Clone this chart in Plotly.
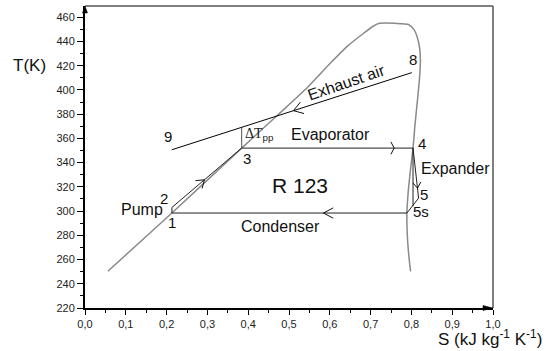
import math
import plotly.graph_objects as go

# ---------------- data ----------------
# saturation dome of R123 (gray curve)
dome_s = [0.056, 0.213, 0.384, 0.473, 0.545, 0.601, 0.642, 0.683, 0.707, 0.722,
          0.760, 0.793, 0.806, 0.814, 0.820, 0.822, 0.820, 0.815, 0.809, 0.804,
          0.797, 0.792, 0.789, 0.790, 0.794, 0.798]
dome_T = [250.3, 298.4, 352.0, 379.5, 402.0, 422.0, 435.8, 446.8, 452.8, 455.0,
          455.0, 454.0, 450.0, 444.0, 435.0, 425.0, 410.0, 392.0, 372.0, 352.0,
          332.0, 315.0, 298.4, 280.0, 262.0, 250.3]

# ORC cycle points 1 -> 2 -> 3 -> 4 -> 5 -> 5s -> 1
cycle_names = ["1", "2", "3", "4", "5", "5s", "1"]
cycle_s = [0.213, 0.213, 0.384, 0.804, 0.8176, 0.789, 0.213]
cycle_T = [298.4, 303.0, 352.0, 352.0, 310.7, 298.4, 298.4]

# isentropic expansion 4 -> 5s'
iso_s = [0.804, 0.804]
iso_T = [352.0, 304.0]

# pinch point temperature difference at 3
pinch_s = [0.384, 0.384]
pinch_T = [352.0, 369.2]

# exhaust air line 8 -> 9
exh_s = [0.801, 0.2126]
exh_T = [414.3, 350.6]

x_ticks = [0.0, 0.1, 0.2, 0.3, 0.4, 0.5, 0.6, 0.7, 0.8, 0.9, 1.0]
y_ticks = [220, 240, 260, 280, 300, 320, 340, 360, 380, 400, 420, 440, 460]

# ---------------- geometry ----------------
W, H = 546, 351
ML, MR, MT, MB = 85, 53, 6, 43
XR = [0.0, 1.0]
YR = [220.0, 469.3]
PW, PH = W - ML - MR, H - MT - MB
KX = PW / (XR[1] - XR[0])
KY = PH / (YR[1] - YR[0])


def chevron(p0, p1, t, L, ang):
    s = p0[0] + t * (p1[0] - p0[0])
    T = p0[1] + t * (p1[1] - p0[1])
    dx = (p1[0] - p0[0]) * KX
    dy = (p1[1] - p0[1]) * KY
    n = math.hypot(dx, dy)
    bx, by = -dx / n, -dy / n
    a = math.radians(ang)
    xs, ys = [], []
    for sg in (1, -1):
        rx = bx * math.cos(sg * a) - by * math.sin(sg * a)
        ry = bx * math.sin(sg * a) + by * math.cos(sg * a)
        xs.append(s + rx * L / KX)
        ys.append(T + ry * L / KY)
    return [xs[0], s, xs[1], None], [ys[0], T, ys[1], None]


def pt(i):
    return (cycle_s[i], cycle_T[i])


chev_specs = [
    ((exh_s[0], exh_T[0]), (exh_s[1], exh_T[1]), 0.493, 11, 33),
    (pt(2), pt(3), 0.89, 7, 62),
    (pt(5), pt(6), 0.355, 11, 28),
    (pt(1), pt(2), 0.466, 9, 35),
    (pt(3), pt(4), 0.8, 7, 35),
]
chev_x, chev_y = [], []
for a, b, t, L, ang in chev_specs:
    cx, cy = chevron(a, b, t, L, ang)
    chev_x += cx
    chev_y += cy

fig = go.Figure()
fig.add_trace(go.Scatter(x=dome_s, y=dome_T, mode="lines",
                         line=dict(color="#8a8a8a", width=1.5, shape="spline", smoothing=0.6),
                         hoverinfo="skip"))
fig.add_trace(go.Scatter(x=cycle_s, y=cycle_T, mode="lines",
                         line=dict(color="#222222", width=1), hoverinfo="skip"))
fig.add_trace(go.Scatter(x=iso_s, y=iso_T, mode="lines",
                         line=dict(color="#222222", width=1), hoverinfo="skip"))
fig.add_trace(go.Scatter(x=pinch_s, y=pinch_T, mode="lines",
                         line=dict(color="#555555", width=1), hoverinfo="skip"))
fig.add_trace(go.Scatter(x=exh_s, y=exh_T, mode="lines",
                         line=dict(color="#000000", width=1), hoverinfo="skip"))
fig.add_trace(go.Scatter(x=chev_x, y=chev_y, mode="lines",
                         line=dict(color="#111111", width=1), hoverinfo="skip"))

F = "Liberation Sans, Arial, sans-serif"
ann = []


def lab(text, x, y, size=15, xanchor="center", **kw):
    ann.append(dict(text=text, x=x, y=y, xref="x", yref="y", showarrow=False,
                    xanchor=xanchor, yanchor="middle",
                    font=dict(family=F, size=size, color="#111111"), **kw))


lab("9", 0.2036, 361.3)
lab("8", 0.804, 424.8)
lab("Exhaust air", 0.640, 406.2, size=16, textangle=-19)
lab("Evaporator", 0.601, 362.9, size=16)
lab("3", 0.398, 343.7)
lab("4", 0.826, 356.1)
lab("Expander", 0.9075, 335.5, size=16)
lab("5", 0.830, 313.4)
lab("5s", 0.823, 299.7)
lab("R 123", 0.527, 321.1, size=21)
lab("Condenser", 0.478, 287.3, size=16)
lab("Pump", 0.139, 301.1, size=16)
lab("2", 0.1946, 310.7)
lab("1", 0.214, 290.9)
ann.append(dict(text="ΔT<sub><span style='font-family:Liberation Sans'>pp</span></sub>",
                x=0.3868, y=362.9, xref="x", yref="y", showarrow=False,
                xanchor="left", yanchor="middle",
                font=dict(family="Liberation Serif, Times New Roman, serif", size=14, color="#222222")))
ann.append(dict(text="T(K)", x=(29.3 - ML) / PW, y=(MT + PH - 65) / PH, xref="paper", yref="paper",
                showarrow=False, xanchor="center", yanchor="middle",
                font=dict(family=F, size=17, color="#111111")))
ann.append(dict(text="S (kJ kg<sup>-1</sup> K<sup>-1</sup>)", x=(544 - ML) / PW, y=(MT + PH - 338) / PH,
                xref="paper", yref="paper", showarrow=False, xanchor="right", yanchor="middle",
                font=dict(family=F, size=17, color="#111111")))

ax_len, ax_half = 10 / PW, 2.5 / PH
ay_len, ay_half = 7 / PH, 2.5 / PW
shapes = [
    dict(type="line", xref="paper", yref="paper", x0=0, x1=1, y0=1, y1=1,
         line=dict(color="#555555", width=1.5)),
    dict(type="line", xref="paper", yref="paper", x0=1, x1=1, y0=0, y1=1,
         line=dict(color="#555555", width=1.5)),
    dict(type="path", xref="paper", yref="paper",
         path=f"M 1 0 L {1 - ax_len} {ax_half} L {1 - ax_len} {-ax_half} Z",
         fillcolor="#000000", line=dict(color="#000000", width=0.5)),
    dict(type="path", xref="paper", yref="paper",
         path=f"M 0 1 L {-ay_half} {1 - ay_len} L {ay_half} {1 - ay_len} Z",
         fillcolor="#000000", line=dict(color="#000000", width=0.5)),
]

fig.update_layout(
    width=W, height=H,
    margin=dict(l=ML, r=MR, t=MT, b=MB, pad=0),
    paper_bgcolor="white", plot_bgcolor="white",
    showlegend=False,
    separators=",.",
    annotations=ann, shapes=shapes,
    font=dict(family=F, size=11, color="#222222"),
)
fig.update_xaxes(range=XR, tickvals=x_ticks, tickformat=".1f", showgrid=False, zeroline=False,
                 showline=True, linecolor="#000000", linewidth=2,
                 ticks="outside", ticklen=5, tickwidth=1, tickcolor="#000000",
                 minor=dict(dtick=0.05, ticks="outside", ticklen=3, tickwidth=1, tickcolor="#000000"),
                 tickfont=dict(family=F, size=11, color="#222222"))
fig.update_yaxes(range=YR, tickvals=y_ticks, showgrid=False, zeroline=False,
                 showline=True, linecolor="#000000", linewidth=2,
                 ticks="outside", ticklen=6, tickwidth=1, tickcolor="#000000",
                 minor=dict(dtick=10, tick0=220, ticks="outside", ticklen=3, tickwidth=1, tickcolor="#000000"),
                 tickfont=dict(family=F, size=11, color="#222222"))

fig.write_html("out.html")
